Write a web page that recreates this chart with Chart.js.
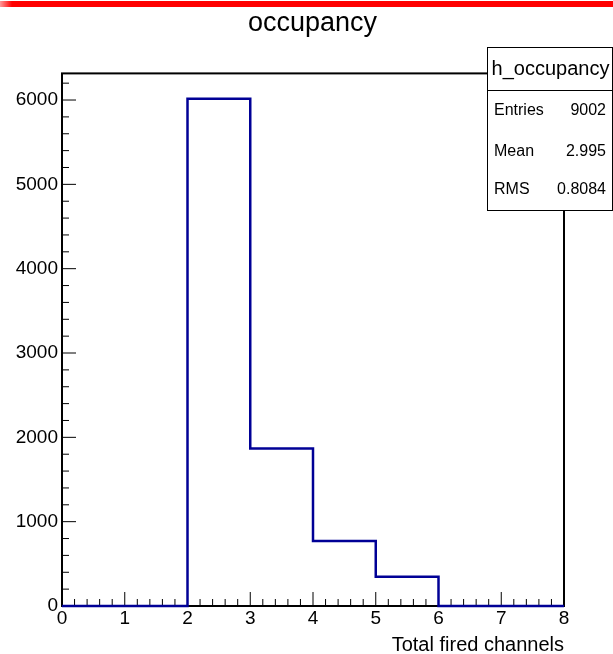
<!DOCTYPE html>
<html>
<head>
<meta charset="utf-8">
<script src="https://cdn.jsdelivr.net/npm/chart.js@4.4.1/dist/chart.umd.min.js"></script>
<style>
  body { margin: 0; background: #fff; }
  #wrap { position: relative; width: 613px; height: 654px; }
  #redline { position: absolute; left: 0; top: 1px; width: 613px; height: 6px;
             background: linear-gradient(to right, #ff9a9a 0px, #ff0000 12px); }
</style>
</head>
<body>
<div id="wrap"><canvas id="chart_occupancy"></canvas><div id="redline"></div></div>
<script>
// histogram h_occupancy: bin edges and contents
var binEdges = [0, 1, 2, 3, 4, 5, 6, 7, 8];
var binCounts = [0, 0, 6015, 1867, 772, 348, 0, 0];
var xTickValues = [0, 1, 2, 3, 4, 5, 6, 7, 8];
var yTickValues = [0, 1000, 2000, 3000, 4000, 5000, 6000];
var histName = 'h_occupancy';
var statNames = ['Entries', 'Mean', 'RMS'];

// stats box values, computed from bin centres like ROOT does
var entries = 0, sumX = 0, sumX2 = 0;
for (var i = 0; i < binCounts.length; i++) {
    var c = (binEdges[i] + binEdges[i + 1]) / 2;
    entries += binCounts[i];
    sumX += binCounts[i] * c;
}
var mean = sumX / entries;
for (var i = 0; i < binCounts.length; i++) {
    var c = (binEdges[i] + binEdges[i + 1]) / 2;
    sumX2 += binCounts[i] * (c - mean) * (c - mean);
}
var rms = Math.sqrt(sumX2 / entries);
var statValues = [String(entries), mean.toPrecision(4), rms.toPrecision(4)];

var histPoints = binCounts.map(function(v, i) { return {x: binEdges[i], y: v}; });
histPoints.push({x: binEdges[binEdges.length - 1], y: binCounts[binCounts.length - 1]});

var FONT = "'Liberation Sans', Arial, sans-serif";
Chart.defaults.font.family = FONT;
Chart.defaults.color = '#000';

// frame + inward ROOT style ticks (major and 5 minor divisions)
var rootAxes = {
    id: 'rootAxes',
    beforeDatasetsDraw: function(chart) {
        var ctx = chart.ctx, a = chart.chartArea;
        var xs = chart.scales.x, ys = chart.scales.y;
        ctx.save();
        ctx.strokeStyle = '#000';
        ctx.lineWidth = 1;
        ctx.beginPath();
        for (var i = 0; i < xTickValues.length; i++) {
            var px = xs.getPixelForValue(xTickValues[i]);
            ctx.moveTo(px, a.bottom); ctx.lineTo(px, a.bottom - 14);
            if (i < xTickValues.length - 1) {
                var step = (xTickValues[i + 1] - xTickValues[i]) / 5;
                for (var k = 1; k < 5; k++) {
                    var mx = xs.getPixelForValue(xTickValues[i] + k * step);
                    ctx.moveTo(mx, a.bottom); ctx.lineTo(mx, a.bottom - 7);
                }
            }
        }
        var ystep = (yTickValues[1] - yTickValues[0]) / 5;
        for (var v = 0; v <= ys.max; v += ystep) {
            var py = ys.getPixelForValue(v);
            var len = (Math.round(v) % 1000 === 0) ? 14 : 7;
            ctx.moveTo(a.left, py); ctx.lineTo(a.left + len, py);
        }
        ctx.stroke();
        ctx.lineWidth = 2;
        ctx.strokeRect(a.left, a.top, a.right - a.left, a.bottom - a.top);
        ctx.restore();
    },
    afterDraw: function(chart) {
        var ctx = chart.ctx;
        var bx = 487, by = 47, bw = 125, bh = 163, head = 43;
        ctx.save();
        ctx.fillStyle = '#fff';
        ctx.fillRect(bx, by, bw, bh);
        ctx.strokeStyle = '#000';
        ctx.lineWidth = 1;
        ctx.strokeRect(bx + 0.5, by + 0.5, bw, bh);
        ctx.beginPath();
        ctx.moveTo(bx, by + head + 0.5); ctx.lineTo(bx + bw, by + head + 0.5);
        ctx.stroke();
        ctx.fillStyle = '#000';
        ctx.textBaseline = 'middle';
        ctx.textAlign = 'center';
        ctx.font = '20px ' + FONT;
        ctx.fillText(histName, bx + bw / 2 + 1, by + 22);
        ctx.font = '16px ' + FONT;
        var rowY = [111, 152, 190];
        for (var i = 0; i < statNames.length; i++) {
            ctx.textAlign = 'left';
            ctx.fillText(statNames[i], bx + 7, rowY[i]);
            ctx.textAlign = 'right';
            ctx.fillText(statValues[i], bx + bw - 6, rowY[i]);
        }
        ctx.restore();
    }
};

var chart_occupancy;

window.onload = function() {
    chart_occupancy = new Chart(document.getElementById('chart_occupancy'), {
        type: 'line',
        data: {
            datasets: [{
                label: histName,
                data: histPoints,
                fill: false,
                borderColor: 'rgb(0, 0, 150)',
                borderWidth: 2.5,
                borderJoinStyle: 'miter',
                stepped: 'before',
                pointRadius: 0,
                clip: 4
            }]
        },
        options: {
            responsive: true,
            maintainAspectRatio: false,
            animation: false,
            layout: { padding: { left: 12, right: 0, top: 0, bottom: 0 } },
            plugins: {
                legend: { display: false },
                tooltip: { enabled: false },
                title: {
                    display: true,
                    text: 'occupancy',
                    font: { size: 27, weight: 'normal' },
                    color: '#000',
                    padding: { top: 7, bottom: 34 }
                }
            },
            scales: {
                x: {
                    type: 'linear',
                    min: binEdges[0],
                    max: binEdges[binEdges.length - 1],
                    afterBuildTicks: function(s) { s.ticks = xTickValues.map(function(v) { return {value: v}; }); },
                    afterFit: function(s) { s.height = 48; },
                    grid: { display: false, drawTicks: false },
                    border: { display: false },
                    ticks: { font: { size: 19 }, padding: 1, maxRotation: 0, autoSkip: false },
                    title: {
                        display: true,
                        text: 'Total fired channels',
                        align: 'end',
                        font: { size: 20 },
                        padding: { top: 0, bottom: -3 }
                    }
                },
                y: {
                    type: 'linear',
                    min: 0,
                    max: Math.max.apply(null, binCounts) * 1.05,
                    afterBuildTicks: function(s) { s.ticks = yTickValues.map(function(v) { return {value: v}; }); },
                    afterFit: function(s) { s.width = 50; },
                    grid: { display: false, drawTicks: false },
                    border: { display: false },
                    ticks: { font: { size: 19 }, padding: 4, callback: function(v) { return String(v); } }
                },
                // empty right margin, keeps the frame off the right edge
                yRight: {
                    type: 'linear',
                    position: 'right',
                    display: true,
                    afterFit: function(s) { s.width = 49; },
                    grid: { display: false, drawTicks: false },
                    border: { display: false },
                    ticks: { display: false }
                }
            }
        },
        plugins: [rootAxes]
    });
};
</script>
</body>
</html>
